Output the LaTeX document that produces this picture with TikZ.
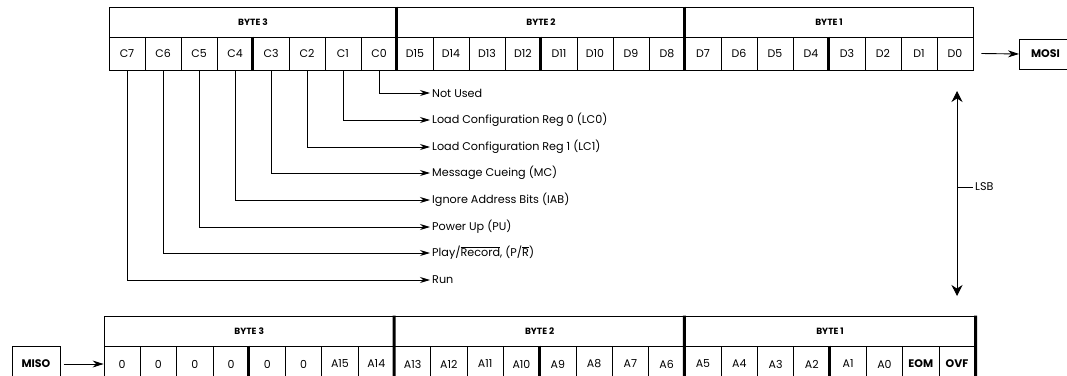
\documentclass[tikz,border=0pt]{standalone}
\usepackage{fontspec}
\setmainfont{Poppins}
\usetikzlibrary{arrows.meta}
\begin{document}
\begin{tikzpicture}[x=1pt,y=-1pt,
  cell/.style={draw,line width=0.8pt,inner sep=0pt,minimum height=33pt,font=\fontsize{11}{12}\selectfont},
  hdr/.style={draw,line width=0.8pt,inner sep=0pt,minimum height=30pt,font=\bfseries\fontsize{9}{10}\selectfont},
  thickbar/.style={line width=3pt},
  conn/.style={line width=0.9pt,-{Stealth[length=10pt,width=6pt]}},
  lab/.style={anchor=west,inner sep=2pt,font=\fontsize{11.2}{12}\selectfont},
  sig/.style={draw,line width=1pt,inner sep=0pt,font=\bfseries\fontsize{11}{12}\selectfont}]
\useasboundingbox (0,0) rectangle (1067,375);
\clip (0,0) rectangle (1067,375);
% ---------- top table ----------
\foreach \t [count=\i from 0] in {C7,C6,C5,C4,C3,C2,C1,C0,D15,D14,D13,D12,D11,D10,D9,D8,D7,D6,D5,D4,D3,D2,D1,D0}
  \node[cell,minimum width=36pt] (t\t) at ({109+36*(\i+0.5)},53.5) {\t};
\node[hdr,minimum width=288pt] (tb3) at (253,22) {BYTE 3};
\node[hdr,minimum width=288pt] (tb2) at (541,22) {BYTE 2};
\node[hdr,minimum width=288pt] (tb1) at (829,22) {BYTE 1};
\draw[thickbar] (tb2.north west) -- (tD15.south west);
\draw[thickbar] (tb1.north west) -- (tD7.south west);
\draw[thickbar] (tC3.north west) -- (tC3.south west);
\draw[thickbar] (tD11.north west) -- (tD11.south west);
\draw[thickbar] (tD3.north west) -- (tD3.south west);
% MOSI
\node[sig,minimum width=62pt,minimum height=30pt,anchor=west] (mosi) at (1019,54) {\hspace*{-10pt}MOSI};
\draw[conn,-{Stealth[length=11pt,width=7pt]}] ([xshift=8pt]tD0.east) -- (mosi.west);
% ---------- labels ----------
\node[lab] (l0) at (430,93) {Not Used};
\node[lab] (l1) at (430,120) {Load Configuration Reg 0 (LC0)};
\node[lab] (l2) at (430,147) {Load Configuration Reg 1 (LC1)};
\node[lab] (l3) at (430,173) {Message Cueing (MC)};
\node[lab] (l4) at (430,200) {Ignore Address Bits (IAB)};
\node[lab] (l5) at (430,227) {Power Up (PU)};
\node[lab] (l6) at (430,253) {Play/$\overline{\mbox{Record}}$, (P/$\overline{\mbox{R}}$)};
\node[lab] (l7) at (430,280) {Run};
\draw[conn] (tC0.south) |- (l0.west);
\draw[conn] (tC1.south) |- (l1.west);
\draw[conn] (tC2.south) |- (l2.west);
\draw[conn] (tC3.south) |- (l3.west);
\draw[conn] (tC4.south) |- (l4.west);
\draw[conn] (tC5.south) |- (l5.west);
\draw[conn] (tC6.south) |- (l6.west);
\draw[conn] (tC7.south) |- (l7.west);
% ---------- LSB ----------
\coordinate (lsbtop) at (957,91);
\coordinate (lsbbot) at (957,296);
\coordinate (lsbmid) at (957,187);
\draw[line width=0.9pt,{Stealth[length=11pt,width=11pt]}-{Stealth[length=11pt,width=11pt]}] (lsbtop) -- (lsbbot);
\node[lab] (lsb) at (973,187) {LSB};
\draw[line width=0.9pt] (lsbmid) -- (lsb.west);
% ---------- bottom table ----------
\foreach \t [count=\i from 0] in {0,0,0,0,0,0,A15,A14,A13,A12,A11,A10,A9,A8,A7,A6,A5,A4,A3,A2,A1,A0,\textbf{EOM},\textbf{OVF}}
  \node[cell,minimum width=36.3pt,minimum height=36pt] (b\i) at ({104+36.3*(\i+0.5)},364) {\t};
\node[hdr,minimum width=290.4pt] (bb3) at (249.2,331) {BYTE 3};
\node[hdr,minimum width=290.4pt] (bb2) at (539.6,331) {BYTE 2};
\node[hdr,minimum width=290.4pt] (bb1) at (830.0,331) {BYTE 1};
\draw[thickbar] (bb2.north west) -- (b8.south west);
\draw[thickbar] (bb1.north west) -- (b16.south west);
\draw[thickbar] (bb1.north east) -- (b23.south east);
\draw[thickbar] (b4.north west) -- (b4.south west);
\draw[thickbar] (b12.north west) -- (b12.south west);
\draw[thickbar] (b20.north west) -- (b20.south west);
% MISO
\node[sig,minimum width=48pt,minimum height=36pt] (miso) at (36,364) {MISO};
\draw[conn,-{Stealth[length=11pt,width=7pt]}] ([xshift=3pt]miso.east) -- (b0.west);
\end{tikzpicture}
\end{document}
